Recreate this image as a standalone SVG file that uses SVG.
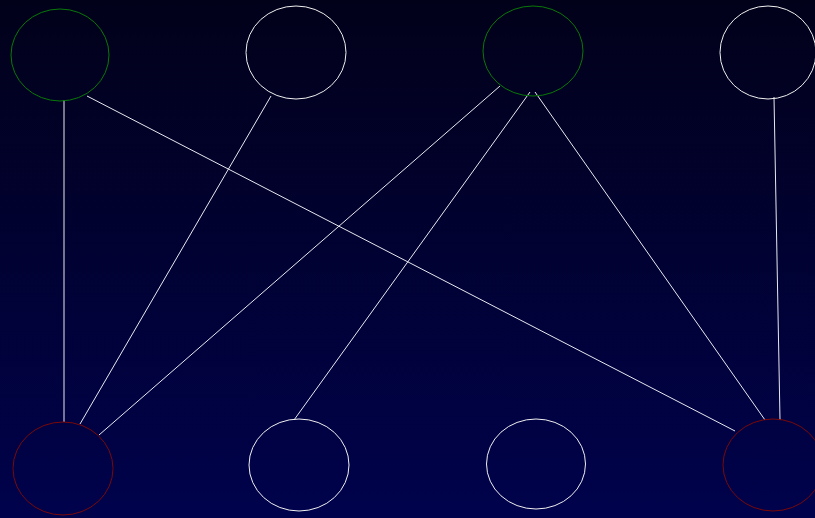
<svg xmlns="http://www.w3.org/2000/svg" width="815" height="518" viewBox="0 0 815 518">
<defs>
<linearGradient id="bg" x1="0" y1="0" x2="0" y2="1">
<stop offset="0" stop-color="#02011a"/>
<stop offset="1" stop-color="#00024c"/>
</linearGradient>
<style>
.n{fill:none;stroke-width:1}
.g{stroke:#087808}
.w{stroke:#f0f0f0}
.r{stroke:#7a0808}
.e{stroke:#e8e8f0;stroke-width:1;fill:none}
</style>
</defs>
<rect width="815" height="518" fill="url(#bg)"/>
<g id="connectors">
<line class="e" x1="64" y1="100" x2="64" y2="422"/>
<line class="e" x1="87" y1="96" x2="735" y2="431"/>
<line class="e" x1="271" y1="96" x2="80" y2="424"/>
<line class="e" x1="500" y1="86" x2="99" y2="435"/>
<line class="e" x1="530" y1="92" x2="294" y2="420"/>
<line class="e" x1="535" y1="92" x2="765" y2="420"/>
<line class="e" x1="774" y1="97" x2="780" y2="420"/>
</g>
<g id="n1"><ellipse class="n g" cx="60" cy="55" rx="49" ry="46"/></g>
<g id="n2"><ellipse class="n w" cx="296" cy="52.5" rx="50" ry="46.5"/></g>
<g id="n3"><ellipse class="n g" cx="533" cy="51" rx="50" ry="45"/></g>
<g id="n4"><ellipse class="n w" cx="768" cy="52.5" rx="48" ry="46.5"/></g>
<g id="n5"><ellipse class="n r" cx="63" cy="468.5" rx="50" ry="46.5"/></g>
<g id="n6"><ellipse class="n w" cx="299" cy="465" rx="50" ry="46"/></g>
<g id="n7"><ellipse class="n w" cx="536" cy="464" rx="49.5" ry="45"/></g>
<g id="n8"><ellipse class="n r" cx="773" cy="465" rx="50" ry="46"/></g>
</svg>
